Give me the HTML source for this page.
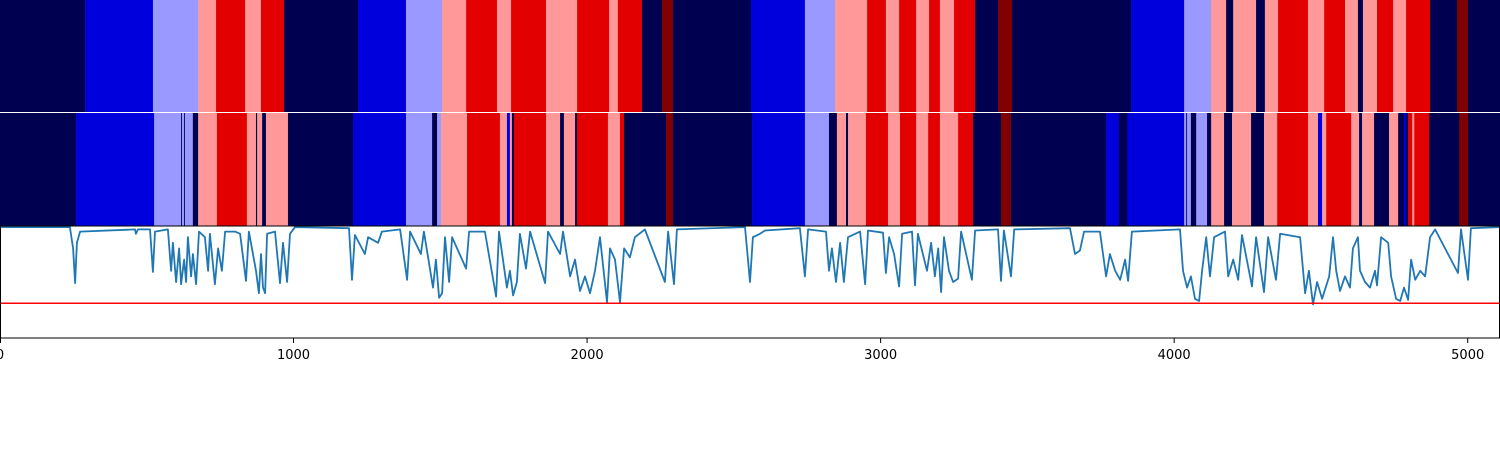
<!DOCTYPE html>
<html><head><meta charset="utf-8"><style>
html,body{margin:0;padding:0;background:#fff;width:1500px;height:450px;overflow:hidden}
svg text{font-family:"DejaVu Sans","Liberation Sans",sans-serif;font-size:13px;fill:#000}
</style></head><body>
<svg id="chart" width="1500" height="450" viewBox="0 0 1500 450" xmlns="http://www.w3.org/2000/svg">
<g id="band1"></g>
<g id="band2"></g>
<g id="lineax"></g>
</svg>
<script>
const topBounds=[0,290,521,675,736,835,889,968,1220,1383,1506,1588,1693,1741,1860,1966,2075,2105,2187,2255,2293,2558,2742,2845,2954,3018,3063,3121,3165,3202,3250,3322,3400,3448,3853,4034,4126,4177,4201,4279,4309,4354,4456,4511,4582,4626,4643,4691,4746,4790,4872,4964,5001,5110];
const topClasses=[0,1,2,3,4,3,4,0,1,2,3,4,3,4,3,4,3,4,0,5,0,1,2,3,4,3,4,3,4,3,4,0,5,0,1,2,3,0,3,0,3,4,3,4,3,0,3,4,3,4,0,5,0];
const botBounds=[0,259,525,617,620,627,630,657,675,739,841,872,876,893,906,981,1203,1383,1472,1489,1502,1591,1703,1727,1737,1744,1751,1860,1908,1921,1959,1966,2071,2112,2126,2269,2293,2562,2742,2824,2851,2882,2889,2950,3025,3066,3121,3162,3202,3264,3315,3410,3444,3768,3812,3840,4034,4041,4044,4057,4075,4112,4126,4170,4197,4262,4306,4351,4456,4490,4504,4518,4603,4630,4640,4681,4732,4763,4783,4790,4797,4811,4818,4869,4971,5001,5110];
const botClasses=[0,1,2,0,2,0,2,0,3,4,3,0,3,0,3,0,1,2,0,2,3,4,3,1,3,0,4,3,0,3,0,4,3,4,0,5,0,1,2,0,3,0,3,4,3,4,3,4,3,4,0,5,0,1,0,1,2,0,2,0,2,0,3,0,3,0,3,4,3,1,3,4,3,0,3,0,3,0,1,0,4,3,4,0,5,0];
const sigX=[0,238,249,256,262,273,460,463,470,511,521,528,572,583,589,600,610,617,627,634,640,651,657,668,678,698,709,715,732,743,756,767,801,818,838,848,872,882,889,896,903,910,937,954,964,978,988,1005,1189,1199,1209,1243,1254,1288,1301,1363,1387,1397,1434,1444,1475,1485,1496,1506,1516,1530,1540,1588,1598,1652,1690,1700,1727,1737,1748,1761,1771,1792,1806,1857,1867,1908,1918,1942,1959,1976,1993,2010,2027,2044,2068,2078,2095,2112,2126,2146,2163,2197,2265,2276,2296,2306,2538,2555,2565,2589,2606,2725,2742,2753,2814,2824,2834,2848,2862,2875,2889,2930,2947,2957,3008,3018,3029,3046,3063,3073,3107,3117,3127,3158,3172,3185,3196,3206,3216,3233,3247,3264,3274,3311,3322,3400,3410,3420,3444,3455,3645,3662,3679,3693,3747,3768,3781,3799,3816,3833,3843,3856,4020,4030,4044,4057,4071,4085,4095,4109,4122,4136,4173,4184,4201,4218,4231,4265,4279,4306,4320,4347,4361,4429,4446,4459,4473,4487,4504,4528,4541,4552,4565,4582,4599,4609,4626,4633,4650,4667,4684,4691,4705,4729,4739,4756,4770,4783,4797,4807,4821,4838,4855,4872,4889,4967,4977,5001,5011,5110];
const sigY=[.99,.99,.8,.49,.85,.95,.97,.93,.97,.97,.59,.95,.97,.6,.85,.5,.8,.48,.7,.5,.9,.55,.75,.48,.95,.9,.6,.93,.48,.8,.6,.95,.95,.93,.51,.95,.6,.4,.75,.45,.4,.93,.95,.49,.85,.5,.93,.99,.98,.52,.92,.75,.9,.85,.95,.97,.52,.95,.75,.95,.45,.7,.36,.4,.9,.5,.9,.62,.95,.95,.37,.95,.45,.6,.38,.5,.93,.62,.95,.49,.95,.75,.95,.55,.7,.42,.55,.4,.6,.9,.32,.8,.7,.32,.8,.72,.9,.97,.5,.95,.48,.97,.99,.5,.9,.93,.96,.98,.55,.97,.95,.6,.8,.5,.85,.5,.9,.95,.48,.96,.94,.58,.9,.75,.46,.93,.95,.47,.93,.6,.85,.55,.8,.41,.9,.6,.5,.53,.95,.52,.96,.97,.51,.96,.55,.97,.98,.75,.78,.95,.95,.55,.75,.6,.52,.7,.51,.95,.97,.6,.45,.55,.35,.33,.6,.9,.55,.9,.95,.55,.7,.52,.92,.46,.9,.41,.9,.52,.93,.9,.4,.6,.3,.5,.35,.55,.9,.6,.42,.55,.45,.8,.9,.6,.5,.45,.6,.47,.9,.85,.55,.35,.33,.45,.34,.7,.52,.6,.55,.9,.97,.58,.97,.52,.98,.99];
const threshold=0.31;
const xTicks=[0,1000,2000,3000,4000,5000];
const xTickLabels=["0","1000","2000","3000","4000","5000"];
const palette=["#000050","#0000dc","#9999ff","#ff9999","#e30000","#800000"];
const NS="http://www.w3.org/2000/svg";
const X0=0,X1=1500,XMAX=5110;
function xs(v){return X0+(v/XMAX)*(X1-X0);}
const LY0=338,LY1=226;
function ys(v){return LY0-(v)*(LY0-LY1);}
function mk(tag,attrs,parent){const e=document.createElementNS(NS,tag);for(const k in attrs)e.setAttribute(k,attrs[k]);parent.appendChild(e);return e;}
function drawBand(g,bounds,classes,y,h,name){
  for(let i=0;i<classes.length;i++){
    const a=bounds[i],b=i+1<bounds.length?bounds[i+1]:XMAX;
    const r=mk('rect',{x:xs(a),y:y,width:Math.max(0.5,xs(b)-xs(a)+0.3),height:h,fill:palette[classes[i]]},g);
    
    
  }
}
drawBand(document.getElementById('band1'),topBounds,topClasses,0,112,'predicted-segment');
drawBand(document.getElementById('band2'),botBounds,botClasses,113,113,'true-segment');
const la=document.getElementById('lineax');
let d='';
for(let i=0;i<sigX.length;i++){d+=(i?'L':'M')+xs(sigX[i]).toFixed(1)+','+ys(sigY[i]).toFixed(1);}
const p=mk('path',{d:d,fill:'none',stroke:'#1f77b4','stroke-width':1.8,'stroke-linejoin':'round'},la);


const th=mk('line',{x1:0,x2:1500,y1:ys(threshold),y2:ys(threshold),stroke:'#ff0000','stroke-width':1.5},la);


const frame=mk('rect',{x:0.5,y:226,width:1499,height:112,fill:'none',stroke:'#000','stroke-width':1},la);


for(let i=0;i<xTicks.length;i++){
  const x=Math.max(0.5,xs(xTicks[i]));
  const t=mk('line',{x1:x,x2:x,y1:338,y2:343,stroke:'#000','stroke-width':1},la);
  
  
  const tx=mk('text',{x:xs(xTicks[i]),y:359,'text-anchor':'middle'},la);
  tx.textContent=xTickLabels[i];
  
  
}
</script>
</body></html>
